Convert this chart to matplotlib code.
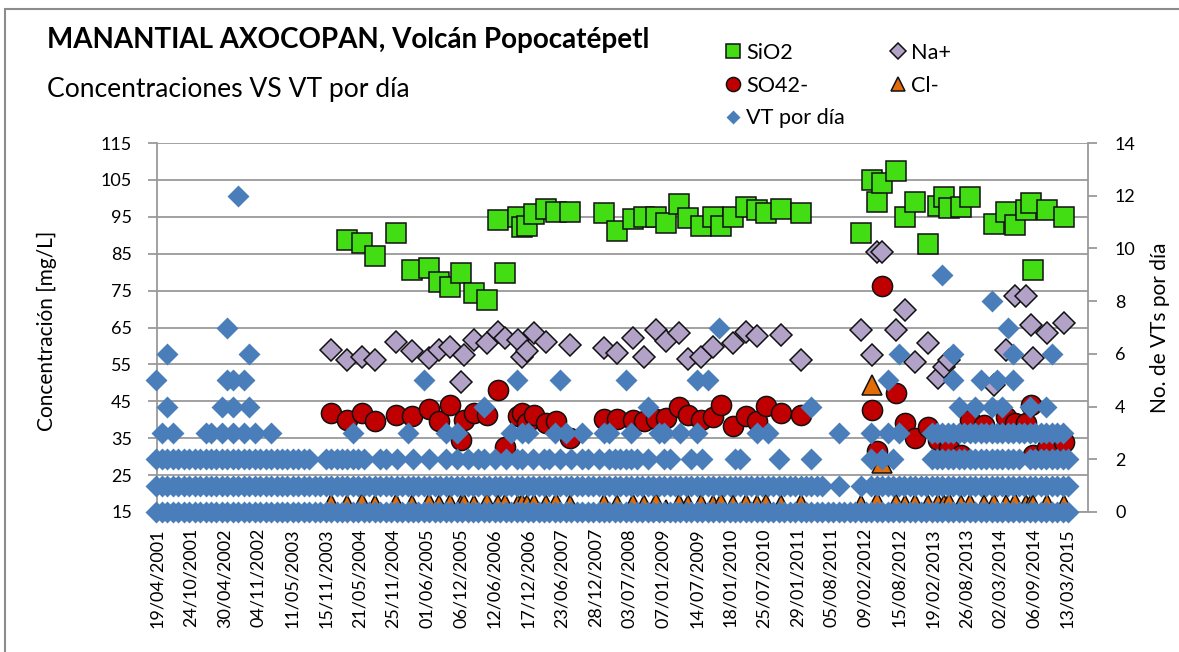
import numpy as np
import pandas as pd
import matplotlib
matplotlib.use("Agg")
import matplotlib.pyplot as plt
import matplotlib.dates as mdates
from matplotlib.patches import Rectangle

plt.rcParams['font.family'] = ['Lato', 'DejaVu Sans']

# ---------------- data ----------------
title = "MANANTIAL AXOCOPAN, Volcán Popocatépetl"
subtitle = "Concentraciones VS VT por día"
left_label = "Concentración [mg/L]"
right_label = "No. de VTs por día"

tick_labels = ["19/04/2001", "24/10/2001", "30/04/2002", "04/11/2002", "11/05/2003",
               "15/11/2003", "21/05/2004", "25/11/2004", "01/06/2005", "06/12/2005",
               "12/06/2006", "17/12/2006", "23/06/2007", "28/12/2007", "03/07/2008",
               "07/01/2009", "14/07/2009", "18/01/2010", "25/07/2010", "29/01/2011",
               "05/08/2011", "09/02/2012", "15/08/2012", "19/02/2013", "26/08/2013",
               "02/03/2014", "06/09/2014", "13/03/2015"]
left_ticks = [15, 25, 35, 45, 55, 65, 75, 85, 95, 105, 115]
right_ticks = [0, 2, 4, 6, 8, 10, 12, 14]

sample_dates = ["2003-12-13", "2004-03-11", "2004-06-03", "2004-08-14", "2004-12-09",
                "2005-03-08", "2005-06-11", "2005-08-06", "2005-10-06", "2005-12-06",
                "2005-12-23", "2006-02-22", "2006-05-05", "2006-07-05", "2006-08-13",
                "2006-10-25", "2006-11-16", "2006-12-14", "2007-01-22", "2007-03-29",
                "2007-05-24", "2007-08-10", "2008-02-15", "2008-04-28", "2008-07-26",
                "2008-09-25", "2008-12-01", "2009-01-25", "2009-04-08", "2009-05-28",
                "2009-08-08", "2009-10-14", "2009-11-27", "2010-02-02", "2010-04-15",
                "2010-06-15", "2010-08-05", "2010-10-28", "2011-02-16", "2012-01-16",
                "2012-03-17", "2012-04-14", "2012-05-11", "2012-07-28", "2012-09-16",
                "2012-11-11", "2013-01-22", "2013-03-19", "2013-04-21", "2013-05-19",
                "2013-07-25", "2013-09-13", "2013-11-30", "2014-01-25", "2014-04-02",
                "2014-05-22", "2014-07-27", "2014-08-19", "2014-09-04", "2014-11-21",
                "2015-02-24"]
nan = float('nan')
sio2 = [nan, 88.6, 88.0, 84.4, 90.6, 80.6, 81.1, 77.3, 76.0, 79.8,
        nan, 74.4, 72.5, 94.1, 79.8, 94.9, 92.2, 92.5, 95.7, 97.1,
        96.3, 96.3, 96.0, 91.2, 94.4, 94.9, 94.9, 93.3, 98.5, 94.7,
        92.5, 94.9, 92.5, 94.9, 97.7, 96.8, 96.0, 97.1, 96.0, 90.6,
        105.0, 99.0, 104.2, 107.4, 94.9, 99.0, 87.6, 97.9, 100.4, 97.4,
        97.7, 100.4, nan, 93.0, 96.3, 92.8, 96.8, 98.7, 80.6, 96.8,
        95.0]
na = [58.9, 56.2, 57.0, 56.2, 61.1, 58.6, 56.7, 58.9, 59.7, 50.2,
      57.5, 61.6, 60.8, 63.8, 62.2, 61.6, 57.0, 58.6, 63.5, 61.1,
      nan, 60.3, 59.4, 58.1, 62.2, 57.0, 64.3, 61.3, 63.5, 56.5,
      57.0, 59.7, nan, 60.8, 63.8, 62.7, nan, 63.0, 56.2, 64.3,
      57.5, 85.5, 85.5, 64.3, 69.7, 55.7, 60.8, 51.3, 54.3, 56.2,
      nan, nan, nan, 49.4, 58.9, 73.5, 73.5, 65.7, 56.7, 63.5,
      66.2]
so4 = [41.8, 40.0, 41.8, 39.7, 41.3, 41.0, 42.9, 39.7, 44.0, 34.5,
       40.0, 41.8, 41.3, 48.1, 32.6, 41.0, 41.8, 39.1, 41.3, 39.1,
       39.7, 35.1, 40.2, 40.2, 40.0, 39.7, 40.2, 40.5, 43.5, 41.3,
       40.0, 40.7, 44.0, 38.3, 41.0, 39.7, 43.7, 41.8, 41.3, nan,
       42.6, 31.5, 76.2, 47.2, 39.1, 35.1, 38.0, 34.5, nan, 32.3,
       30.5, 40.0, 38.6, nan, 40.7, 39.1, 39.1, 44.0, 30.5, 32.3,
       34.0]
cl = [17.2, 16.8, 17.4, 16.9, 17.3, 16.8, 17.5, 16.9, 17.2, 16.8,
      17.3, 16.9, 17.4, 16.8, 17.2, 16.9, 17.3, 16.8, 17.2, 16.9,
      17.4, 16.8, 17.2, 16.9, 17.3, 16.8, 17.4, 15.5, 17.2, 16.9,
      17.3, 16.8, 17.4, 16.9, 17.2, 16.8, 17.3, 16.9, 17.2, 17.0,
      49.5, 17.6, 28.3, 17.2, 16.9, 17.3, 16.8, 17.2, 16.9, 17.4,
      16.8, 17.2, 16.9, 17.3, 16.8, 17.4, 16.9, 17.2, 16.8, 17.3,
      16.9]

# VT por día: for each month, the daily counts that occur (hex digits, c = 12)
vt_2001 = ["", "", "", "0125", "0123", "01246", "0123", "012", "012", "012", "012", "012"]
vt_2002 = ["0123", "0123", "012", "01234", "01257", "012345", "012c", "01235", "01246", "0123", "012", "012"]
vt_2003 = ["0123", "012", "012", "012", "012", "012", "012", "012", "01", "01", "012", "012"]
vt_2004 = ["012", "012", "012", "0123", "012", "012", "01", "01", "012", "012", "01", "012"]
vt_2005 = ["01", "013", "012", "01", "015", "012", "01", "01", "0123", "01", "0123", "01"]
vt_2006 = ["012", "01", "012", "0124", "01", "012", "01", "012", "013", "0125", "0123", "013"]
vt_2007 = ["012", "01", "012", "012", "013", "0125", "013", "012", "01", "0123", "012", "01"]
vt_2008 = ["012", "013", "0123", "012", "012", "0125", "0123", "012", "01", "0124", "01", "013"]
vt_2009 = ["0123", "012", "01", "013", "01", "012", "0135", "012", "015", "01", "017", "01"]
vt_2010 = ["01", "012", "012", "01", "01", "013", "01", "013", "01", "012", "01", "01"]
vt_2011 = ["01", "01", "01", "0124", "01", "01", "0", "0", "013", "0", "0", "0"]
vt_2012 = ["01", "0", "0123", "01", "012", "0135", "012", "0136", "01", "01", "01", "01"]
vt_2013 = ["01", "0123", "0123", "01239", "0123", "012356", "01234", "0123", "0123", "01234", "01235", "0123"]
vt_2014 = ["012348", "01235", "01234", "01237", "012356", "0123", "013", "01234", "0123", "0123", "01234", "01236"]
vt_2015 = ["0123", "0123", "012", "", "", "", "", "", "", "", "", ""]
vt_years = {2001: vt_2001, 2002: vt_2002, 2003: vt_2003, 2004: vt_2004, 2005: vt_2005,
            2006: vt_2006, 2007: vt_2007, 2008: vt_2008, 2009: vt_2009, 2010: vt_2010,
            2011: vt_2011, 2012: vt_2012, 2013: vt_2013, 2014: vt_2014, 2015: vt_2015}

vt_dates, vt_vals = [], []
for yr, months in vt_years.items():
    for mi, levels in enumerate(months):
        for ch in levels:
            vt_dates.append(f"{yr}-{mi + 1:02d}-15")
            vt_vals.append(int(ch, 16))

# ---------------- figure ----------------
W, H = 1179, 652
fig = plt.figure(figsize=(W / 100, H / 100), dpi=100)
fig.patch.set_facecolor('white')
PX = 72 / 100  # points per pixel

L, R, T, B = 157, 1088, 143, 512
ax = fig.add_axes([L / W, 1 - B / H, (R - L) / W, (B - T) / H])
ax2 = ax.twinx()

renderer = fig.canvas.get_renderer()


def fit(text, target, weight='normal', base=20.0):
    t = fig.text(0, 0, text, fontsize=base, weight=weight)
    w = t.get_window_extent(renderer).width
    t.remove()
    return base * target / w


fs_title = fit(title, 603, 'bold')
fs_sub = fit(subtitle, 363)
fs_tick = fit("19/04/2001", 100)
fs_leg = fit("VT por día", 99)
fs_lab = fit(left_label, 200)

# border of chart area
fig.patches.append(Rectangle((5 / W, -0.1), 1.2, 1 - 9 / H + 0.1, transform=fig.transFigure,
                             fill=False, edgecolor='#8C8C8C', linewidth=1.5))

xs = mdates.date2num(pd.to_datetime(sample_dates))
ec = '#111111'
MS = 14.5      # squares, circles, triangles
MD = 11.3      # diamonds (Na+)
MV = 10.8      # diamonds (VT)
h_si, = ax.plot(xs, sio2, ls='none', marker='s', ms=MS, mfc='#43DD13', mec=ec, mew=1.1,
                zorder=3, clip_on=False, label='SiO2')
h_na, = ax.plot(xs, na, ls='none', marker='D', ms=MD, mfc='#B3A2C7', mec=ec, mew=1.1,
                zorder=4, clip_on=False, label='Na+')
h_so, = ax.plot(xs, so4, ls='none', marker='o', ms=MS, mfc='#C00000', mec=ec, mew=1.1,
                zorder=5, clip_on=False, label='SO42-')
h_cl, = ax.plot(xs, cl, ls='none', marker='^', ms=MS, mfc='#E36C09', mec=ec, mew=1.1,
                zorder=6, clip_on=False, label='Cl-')
vx = mdates.date2num(pd.to_datetime(vt_dates))
h_vt, = ax2.plot(vx, vt_vals, ls='none', marker='D', ms=MV, mfc='#4A7EBB', mec='none',
                 zorder=3, clip_on=False, label='VT por día')

# axes limits / ticks
tick_pos = mdates.date2num(pd.to_datetime(tick_labels, format="%d/%m/%Y"))
x0 = tick_pos[0]
x1 = tick_pos[-1] + (tick_pos[-1] - tick_pos[0]) * (R - 1067.5) / (1067.5 - L)
ax.set_xlim(x0, x1)
ax.set_xticks(tick_pos)
ax.set_xticklabels(tick_labels, rotation=90, fontsize=fs_tick)
ax.set_ylim(15, 115)
ax.set_yticks(left_ticks)
ax.set_yticklabels([str(v) for v in left_ticks], fontsize=fs_tick)
ax2.set_ylim(0, 14)
ax2.set_yticks(right_ticks)
ax2.set_yticklabels([str(v) for v in right_ticks], fontsize=fs_tick)

gray = '#9A9A9A'
ax.yaxis.grid(True, color=gray, linewidth=1.3)
ax.set_axisbelow(True)
ax.tick_params(axis='y', direction='out', length=9 * PX, width=1.3, color=gray, pad=16 * PX)
ax.tick_params(axis='x', direction='out', length=5 * PX, width=1.3, color=gray, pad=11 * PX)
ax2.tick_params(axis='y', direction='out', length=9 * PX, width=1.3, color=gray, pad=18 * PX)
ax.spines['top'].set_visible(False)
ax.spines['right'].set_visible(False)
for s in ['left', 'bottom']:
    ax.spines[s].set_color(gray)
    ax.spines[s].set_linewidth(1.3)
for s in ['left', 'top', 'bottom']:
    ax2.spines[s].set_visible(False)
ax2.spines['right'].set_color(gray)
ax2.spines['right'].set_linewidth(1.3)

# titles
fig.text(47 / W, 1 - 48 / H, title, fontsize=fs_title, weight='bold', va='baseline', ha='left')
fig.text(47 / W, 1 - 97 / H, subtitle, fontsize=fs_sub, va='baseline', ha='left')
fig.text(47 / W, 1 - 331 / H, left_label, fontsize=fs_lab, rotation=90, ha='center', va='center')
fig.text(1160 / W, 1 - 328 / H, right_label, fontsize=fs_lab, rotation=90, ha='center', va='center')

# legend
fpx = fs_leg / PX
hl = 0.8
box_left = 733 - hl * fpx / 2
pad_px = 746 - (box_left + hl * fpx)
fig.legend(handles=[h_si, h_so, h_vt, h_na, h_cl], ncol=2, loc='upper left',
           bbox_to_anchor=(box_left / W, 1 - 43 / H), frameon=False, fontsize=fs_leg,
           handlelength=hl, handletextpad=pad_px / fpx,
           columnspacing=(898 - 733 - hl * fpx - pad_px - 99) / fpx,
           labelspacing=0.35 + 5.0 / fpx, borderpad=0, borderaxespad=0, markerscale=0.7,
           numpoints=1)

fig.savefig("out.png", dpi=100, facecolor='white')
